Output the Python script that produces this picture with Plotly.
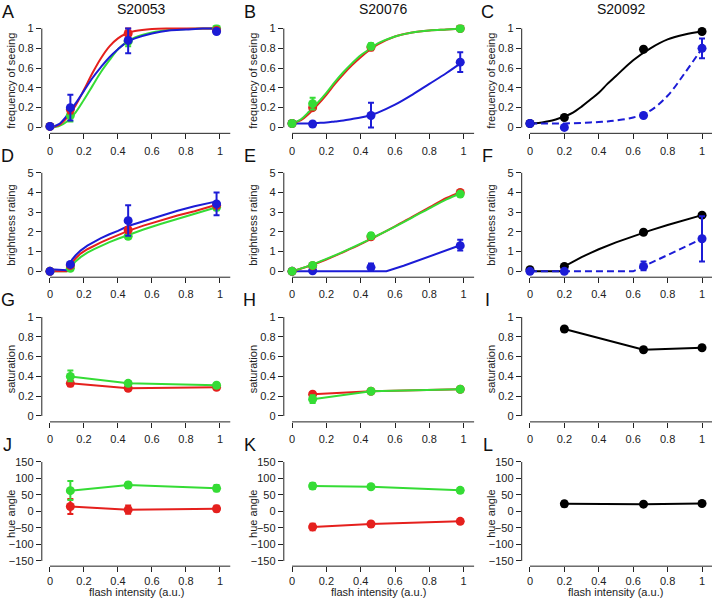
import plotly.graph_objects as go
from plotly.subplots import make_subplots

RED = '#e5201d'
GREEN = '#35dc35'
BLUE = '#1c1cd6'
BLACK = '#000000'

# ---------------- data ----------------
# Row 1: frequency of seeing
xA = [0, 0.12, 0.46, 0.98]
A_red = [0.01, 0.18, 0.95, 0.98]; A_red_lo = [0.01, 0.14, 0.90, 0.97]; A_red_hi = [0.01, 0.22, 1.0, 0.99]
A_green = [0.01, 0.12, 0.87, 1.0]; A_green_lo = [0.01, 0.06, 0.82, 0.99]; A_green_hi = [0.01, 0.20, 0.93, 1.0]
A_blue = [0.01, 0.20, 0.88, 0.97]; A_blue_lo = [0.01, 0.07, 0.75, 0.95]; A_blue_hi = [0.01, 0.33, 1.0, 0.99]
xcurve = [0, 0.05, 0.1, 0.15, 0.2, 0.25, 0.3, 0.35, 0.4, 0.45, 0.5, 0.6, 0.7, 0.8, 0.9, 1.0]
A_red_fit = [0, 0.02, 0.1, 0.22, 0.38, 0.55, 0.7, 0.82, 0.9, 0.95, 0.975, 0.995, 1, 1, 1, 1]
A_green_fit = [0, 0.01, 0.06, 0.15, 0.28, 0.42, 0.56, 0.68, 0.79, 0.86, 0.91, 0.96, 0.985, 0.995, 1, 1]
A_blue_fit = [0, 0.03, 0.12, 0.24, 0.37, 0.5, 0.61, 0.71, 0.79, 0.86, 0.9, 0.95, 0.98, 0.99, 1, 1]

xB = [0, 0.12, 0.46, 0.98]
B_red = [0.04, 0.20, 0.81, 1.0]; B_red_lo = [0.04, 0.18, 0.78, 0.99]; B_red_hi = [0.04, 0.22, 0.84, 1.0]
B_green = [0.04, 0.24, 0.82, 1.0]; B_green_lo = [0.04, 0.18, 0.79, 0.99]; B_green_hi = [0.04, 0.30, 0.85, 1.0]
B_blue = [0.04, 0.035, 0.12, 0.66]; B_blue_lo = [0.04, 0.03, 0.0, 0.56]; B_blue_hi = [0.04, 0.04, 0.25, 0.76]
B_red_fit = [0.04, 0.07, 0.14, 0.23, 0.33, 0.44, 0.54, 0.63, 0.71, 0.78, 0.84, 0.92, 0.96, 0.98, 0.99, 1.0]
B_green_fit = [0.04, 0.08, 0.16, 0.25, 0.35, 0.46, 0.56, 0.65, 0.73, 0.79, 0.85, 0.92, 0.96, 0.98, 0.99, 1.0]
B_blue_fit = [0.04, 0.04, 0.04, 0.045, 0.05, 0.06, 0.07, 0.085, 0.1, 0.12, 0.15, 0.23, 0.33, 0.44, 0.55, 0.67]

xC = [0, 0.2, 0.66, 1.0]
C_black = [0.04, 0.10, 0.79, 0.97]
C_blue = [0.04, 0.0, 0.12, 0.80]; C_blue_lo = [0.04, 0.0, 0.11, 0.70]; C_blue_hi = [0.04, 0.0, 0.13, 0.90]
C_black_fit = [0.04, 0.045, 0.06, 0.08, 0.11, 0.15, 0.21, 0.28, 0.35, 0.44, 0.52, 0.68, 0.8, 0.89, 0.94, 0.97]
C_blue_fit = [0.04, 0.04, 0.04, 0.04, 0.04, 0.042, 0.045, 0.05, 0.055, 0.06, 0.07, 0.1, 0.17, 0.32, 0.55, 0.8]

# Row 2: brightness rating
xD = [0, 0.12, 0.46, 0.98]
D_red = [0, 0.30, 2.10, 3.35]; D_red_lo = [0, 0.25, 1.95, 3.2]; D_red_hi = [0, 0.35, 2.25, 3.5]
D_green = [0, 0.15, 1.78, 3.25]; D_green_lo = [0, 0.10, 1.65, 3.1]; D_green_hi = [0, 0.20, 1.90, 3.4]
D_blue = [0, 0.35, 2.57, 3.42]; D_blue_lo = [0, 0.30, 1.80, 2.85]; D_blue_hi = [0, 0.40, 3.35, 4.0]
xDfit = [0, 0.05, 0.1, 0.11, 0.12, 0.13, 0.15, 0.18, 0.22, 0.26, 0.3, 0.35, 0.4, 0.46, 0.55, 0.65, 0.75, 0.85, 0.98]
D_blue_fit = [0.1, 0.08, 0.05, 0.2, 0.4, 0.6, 0.8, 1.05, 1.3, 1.5, 1.68, 1.88, 2.05, 2.3, 2.55, 2.82, 3.07, 3.3, 3.55]
D_red_fit = [0, 0, 0, 0.1, 0.3, 0.45, 0.65, 0.9, 1.12, 1.3, 1.47, 1.66, 1.85, 2.05, 2.32, 2.58, 2.83, 3.05, 3.38]
D_green_fit = [0, 0, 0, 0.05, 0.15, 0.3, 0.5, 0.72, 0.95, 1.13, 1.3, 1.48, 1.65, 1.85, 2.12, 2.4, 2.65, 2.9, 3.25]

xE = [0, 0.12, 0.46, 0.98]
E_red = [0, 0.28, 1.75, 4.0]; E_red_lo = [0, 0.25, 1.65, 3.92]; E_red_hi = [0, 0.31, 1.85, 4.08]
E_green = [0, 0.30, 1.80, 3.92]; E_green_lo = [0, 0.27, 1.65, 3.85]; E_green_hi = [0, 0.33, 1.95, 4.0]
E_blue = [0, 0.03, 0.20, 1.30]; E_blue_lo = [0, 0.0, 0.05, 1.05]; E_blue_hi = [0, 0.06, 0.40, 1.6]
xEfit = [0, 0.1, 0.2, 0.3, 0.4, 0.5, 0.6, 0.7, 0.8, 0.9, 0.98]
E_red_fit = [0, 0.27, 0.6, 0.98, 1.38, 1.82, 2.28, 2.76, 3.24, 3.72, 4.02]
E_green_fit = [0, 0.29, 0.63, 1.0, 1.4, 1.83, 2.27, 2.73, 3.2, 3.65, 3.95]
xEblue_fit = [0, 0.12, 0.46, 0.55, 0.65, 0.75, 0.85, 0.98]
E_blue_fit = [0, 0, 0, 0, 0.28, 0.6, 0.92, 1.32]

xF = [0, 0.2, 0.66, 1.0]
F_black = [0.08, 0.25, 1.98, 2.85]
F_blue = [0, 0, 0.25, 1.65]; F_blue_lo = [0, 0, 0.05, 0.5]; F_blue_hi = [0, 0, 0.5, 2.8]
xFblack_fit = [0, 0.19, 0.2, 0.25, 0.3, 0.35, 0.4, 0.5, 0.6, 0.66, 0.7, 0.8, 0.9, 1.0]
F_black_fit = [0, 0, 0.25, 0.5, 0.72, 0.92, 1.12, 1.47, 1.78, 1.98, 2.08, 2.35, 2.6, 2.85]
xFblue_fit = [0, 0.2, 0.6, 0.66, 0.8, 1.0]
F_blue_fit = [0, 0, 0, 0.25, 0.83, 1.65]

# Row 3: saturation
xG = [0.12, 0.46, 0.98]
G_red = [0.33, 0.28, 0.29]; G_red_lo = [0.30, 0.26, 0.28]; G_red_hi = [0.37, 0.30, 0.31]
G_green = [0.40, 0.33, 0.31]; G_green_lo = [0.35, 0.31, 0.29]; G_green_hi = [0.46, 0.35, 0.33]
xH = [0.12, 0.46, 0.98]
H_red = [0.22, 0.25, 0.27]; H_red_lo = [0.20, 0.23, 0.25]; H_red_hi = [0.24, 0.26, 0.29]
H_green = [0.17, 0.25, 0.27]; H_green_lo = [0.13, 0.23, 0.25]; H_green_hi = [0.21, 0.27, 0.29]
xI = [0.2, 0.66, 1.0]
I_black = [0.88, 0.67, 0.69]; I_black_lo = [0.86, 0.65, 0.67]; I_black_hi = [0.90, 0.69, 0.71]

# Row 4: hue angle
xJ = [0.12, 0.46, 0.98]
J_green = [63, 80, 70]; J_green_lo = [35, 72, 61]; J_green_hi = [92, 88, 80]
J_red = [15, 5, 8]; J_red_lo = [-8, -7, 0]; J_red_hi = [38, 18, 17]
xK = [0.12, 0.46, 0.98]
K_green = [77, 75, 64]; K_green_lo = [68, 71, 57]; K_green_hi = [86, 79, 71]
K_red = [-47, -38, -30]; K_red_lo = [-57, -45, -35]; K_red_hi = [-37, -31, -25]
xL = [0.2, 0.66, 1.0]
L_black = [23, 22, 24]; L_black_lo = [15, 19, 21]; L_black_hi = [31, 25, 27]

subjects = ['S20053', 'S20076', 'S20092']
panel_letters = ['A', 'B', 'C', 'D', 'E', 'F', 'G', 'H', 'I', 'J', 'K', 'L']
ylabels = ['frequency of seeing', 'brightness rating', 'saturation', 'hue angle']
xlabel = 'flash intensity (a.u.)'

# ---------------- layout geometry ----------------
W, H = 712, 600
FONT = 'Liberation Sans, Arial, sans-serif'
col_px = [(41.8, 230.5), (283.8, 474.3), (521.7, 712.0)]
row_px = [(22.7, 132.0), (167.7, 276.6), (312.7, 422.0), (458.3, 567.0)]
yranges = [[-0.06, 1.04], [-0.3, 5.2], [-0.06, 1.04], [-166, 162]]
ydticks = [0.2, 1, 0.2, 50]
ytops = [1, 5, 1, 150]
ybots = [0, 0, 0, -150]
xranges = [[-0.048, 1.062], [-0.048, 1.062], [-0.048, 1.058]]

fig = make_subplots(rows=4, cols=3)


def axn(r, c):
    return (r - 1) * 3 + c


def add(r, c, x, y, color, mode='markers', dash='solid', lo=None, hi=None, shape='linear'):
    kw = {}
    if lo is not None:
        kw['error_y'] = dict(type='data', symmetric=False,
                             array=[h - v for h, v in zip(hi, y)],
                             arrayminus=[v - l for l, v in zip(lo, y)],
                             color=color, thickness=2, width=3)
    fig.add_trace(go.Scatter(x=x, y=y, mode=mode, showlegend=False,
                             line=dict(color=color, width=2, dash=dash, shape=shape),
                             marker=dict(color=color, size=9), **kw), row=r, col=c)


# A
add(1, 1, xcurve, A_green_fit, GREEN, 'lines', shape='spline')
add(1, 1, xcurve, A_red_fit, RED, 'lines', shape='spline')
add(1, 1, xcurve, A_blue_fit, BLUE, 'lines', shape='spline')
add(1, 1, xA, A_green, GREEN, lo=A_green_lo, hi=A_green_hi)
add(1, 1, xA, A_red, RED, lo=A_red_lo, hi=A_red_hi)
add(1, 1, xA, A_blue, BLUE, lo=A_blue_lo, hi=A_blue_hi)
# B
add(1, 2, xcurve, B_blue_fit, BLUE, 'lines', shape='spline')
add(1, 2, xcurve, B_red_fit, RED, 'lines', shape='spline')
add(1, 2, xcurve, B_green_fit, GREEN, 'lines', shape='spline')
add(1, 2, xB, B_blue, BLUE, lo=B_blue_lo, hi=B_blue_hi)
add(1, 2, xB, B_red, RED, lo=B_red_lo, hi=B_red_hi)
add(1, 2, xB, B_green, GREEN, lo=B_green_lo, hi=B_green_hi)
# C
add(1, 3, xcurve, C_black_fit, BLACK, 'lines', shape='spline')
add(1, 3, xcurve, C_blue_fit, BLUE, 'lines', dash='7px,4px', shape='spline')
add(1, 3, xC, C_black, BLACK)
add(1, 3, xC, C_blue, BLUE, lo=C_blue_lo, hi=C_blue_hi)
# D
add(2, 1, xDfit, D_green_fit, GREEN, 'lines')
add(2, 1, xDfit, D_red_fit, RED, 'lines')
add(2, 1, xDfit, D_blue_fit, BLUE, 'lines')
add(2, 1, xD, D_green, GREEN, lo=D_green_lo, hi=D_green_hi)
add(2, 1, xD, D_red, RED, lo=D_red_lo, hi=D_red_hi)
add(2, 1, xD, D_blue, BLUE, lo=D_blue_lo, hi=D_blue_hi)
# E
add(2, 2, xEblue_fit, E_blue_fit, BLUE, 'lines')
add(2, 2, xEfit, E_red_fit, RED, 'lines', shape='spline')
add(2, 2, xEfit, E_green_fit, GREEN, 'lines', shape='spline')
add(2, 2, xE, E_blue, BLUE, lo=E_blue_lo, hi=E_blue_hi)
add(2, 2, xE, E_red, RED, lo=E_red_lo, hi=E_red_hi)
add(2, 2, xE, E_green, GREEN, lo=E_green_lo, hi=E_green_hi)
# F
add(2, 3, xFblack_fit, F_black_fit, BLACK, 'lines')
add(2, 3, xFblue_fit, F_blue_fit, BLUE, 'lines', dash='7px,4px')
add(2, 3, xF, F_black, BLACK)
add(2, 3, xF, F_blue, BLUE, lo=F_blue_lo, hi=F_blue_hi)
# G, H, I
add(3, 1, xG, G_red, RED, 'lines+markers', lo=G_red_lo, hi=G_red_hi)
add(3, 1, xG, G_green, GREEN, 'lines+markers', lo=G_green_lo, hi=G_green_hi)
add(3, 2, xH, H_red, RED, 'lines+markers', lo=H_red_lo, hi=H_red_hi)
add(3, 2, xH, H_green, GREEN, 'lines+markers', lo=H_green_lo, hi=H_green_hi)
add(3, 3, xI, I_black, BLACK, 'lines+markers', lo=I_black_lo, hi=I_black_hi)
# J, K, L
add(4, 1, xJ, J_red, RED, 'lines+markers', lo=J_red_lo, hi=J_red_hi)
add(4, 1, xJ, J_green, GREEN, 'lines+markers', lo=J_green_lo, hi=J_green_hi)
add(4, 2, xK, K_red, RED, 'lines+markers', lo=K_red_lo, hi=K_red_hi)
add(4, 2, xK, K_green, GREEN, 'lines+markers', lo=K_green_lo, hi=K_green_hi)
add(4, 3, xL, L_black, BLACK, 'lines+markers', lo=L_black_lo, hi=L_black_hi)

AXC = '#222222'
tickfont = dict(family=FONT, size=11, color=AXC)
shapes = []
annotations = []
for r in range(1, 5):
    for c in range(1, 4):
        n = axn(r, c)
        xs = '' if n == 1 else str(n)
        x0p, x1p = col_px[c - 1]
        y0p, y1p = row_px[r - 1]
        xr = xranges[c - 1]
        fig.layout['xaxis' + xs].update(
            domain=[x0p / W, x1p / W], range=xr, tick0=0, dtick=0.2,
            showgrid=False, zeroline=False, showline=False, ticks='outside',
            ticklen=5, tickwidth=1, tickcolor=AXC, tickfont=tickfont,
            ticklabelstandoff=2 if r < 4 else 0, fixedrange=True)
        fig.layout['yaxis' + xs].update(
            domain=[1 - y1p / H, 1 - y0p / H], range=yranges[r - 1], tick0=0,
            dtick=ydticks[r - 1], showgrid=False, zeroline=False, showline=False,
            ticks='outside', ticklen=5, tickwidth=1, tickcolor=AXC, tickfont=tickfont,
            fixedrange=True)
        shapes.append(dict(type='line', xref='x' + xs, yref='y' + xs + ' domain',
                           x0=0, x1=xr[1], y0=0, y1=0, line=dict(color=AXC, width=1)))
        shapes.append(dict(type='line', xref='x' + xs + ' domain', yref='y' + xs,
                           x0=0, x1=0, y0=ybots[r - 1], y1=ytops[r - 1],
                           line=dict(color=AXC, width=1)))
        # panel letter
        annotations.append(dict(text=panel_letters[n - 1], xref='paper', yref='paper',
                                x=(x0p - 34) / W, y=1 - (y0p - 13) / H,
                                xanchor='center', yanchor='middle', showarrow=False,
                                font=dict(family=FONT, size=18, color='#111')))
        # y label
        annotations.append(dict(text=ylabels[r - 1], xref='paper', yref='paper',
                                x=(x0p - 31) / W, y=1 - ((y0p + y1p) / 2 + 2) / H,
                                textangle=-90, xanchor='center', yanchor='middle',
                                showarrow=False, font=dict(family=FONT, size=11, color=AXC)))
        if r == 4:
            annotations.append(dict(text=xlabel, xref='paper', yref='paper',
                                    x=(x0p + 8.2 + 86) / W, y=0.0,
                                    xanchor='center', yanchor='bottom', showarrow=False,
                                    borderpad=0,
                                    font=dict(family=FONT, size=11, color=AXC)))

for c in range(3):
    x0p, _ = col_px[c]
    annotations.append(dict(text=subjects[c], xref='paper', yref='paper',
                            x=(x0p + 8.2 + 91) / W, y=1 - 7 / H,
                            xanchor='center', yanchor='middle', showarrow=False,
                            font=dict(family=FONT, size=14, color='#111')))

fig.update_layout(width=W, height=H, margin=dict(l=0, r=0, t=0, b=0),
                  plot_bgcolor='white', paper_bgcolor='white',
                  shapes=shapes, annotations=annotations,
                  font=dict(family=FONT))
fig.write_html('out.html', config={'displayModeBar': False},
               post_script="document.body.style.margin='0';document.body.style.overflow='hidden';")
